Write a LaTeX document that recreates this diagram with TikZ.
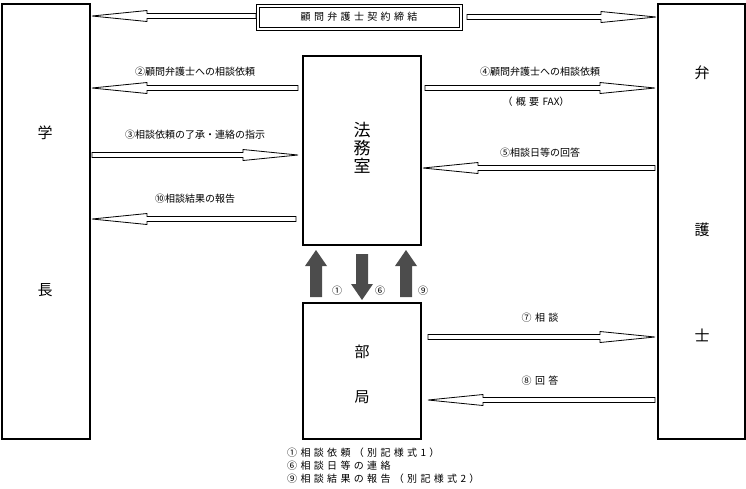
\documentclass[tikz,border=0pt]{standalone}
\usepackage{fontspec}
\setmainfont{Noto Sans CJK JP}
\usetikzlibrary{calc}
\newcommand\harrow[3]{%
  \pgfmathsetmacro\dd{(#2>#1)?1:-1}%
  \pgfmathsetmacro\hb{#2-\dd*55}%
  \draw[line width=0.8pt,fill=white] (#1,#3-2.5) -- (\hb,#3-2.5) -- (\hb,#3-5.5) -- (#2,#3) -- (\hb,#3+5.5) -- (\hb,#3+2.5) -- (#1,#3+2.5) -- cycle;}
\newcommand\garrow[3]{% x, tail y, head y
  \pgfmathsetmacro\dd{(#3>#2)?1:-1}%
  \pgfmathsetmacro\hb{#3-\dd*16}%
  \fill[gray!35!black!85] (#1-6,#2) -- (#1-6,\hb) -- (#1-11,\hb) -- (#1,#3) -- (#1+11,\hb) -- (#1+6,\hb) -- (#1+6,#2) -- cycle;}
\begin{document}
\begin{tikzpicture}[x=1pt,y=-1pt,
  box/.style={draw,line width=1.5pt},
  lbl/.style={font=\fontsize{10}{12}\selectfont,inner sep=0pt},
  big/.style={font=\fontsize{15}{18}\selectfont,inner sep=0pt}]
\useasboundingbox (0,0) rectangle (746,488);
\draw[box] (2,4) rectangle (90,439);
\draw[box] (658,4) rectangle (745,439);
\draw[box] (303,56) rectangle (421,245);
\draw[box] (303,303) rectangle (421,439);
\draw[line width=0.8pt] (256,4) rectangle (462,30);
\draw[line width=0.8pt] (259,7) rectangle (459,27);
\node[lbl] (contract) at (359,17) {顧\,\,問\,\,弁\,\,護\,\,士\,\,契\,\,約\,\,締\,\,結};
\node[big] (gaku) at (45,133) {学};
\node[big] (cho) at (45,290) {長};
\node[big] (b1) at (702,73) {弁};
\node[big] (b2) at (702,230) {護};
\node[big] (b3) at (702,335) {士};
\node[big,font=\fontsize{17}{20}\selectfont,align=center] (homu) at (362,148) {法\\[-2pt]務\\[-2pt]室};
\node[big] (bu) at (362,352) {部};
\node[big] (kyoku) at (362,397) {局};
\harrow{256}{92}{16}
\harrow{467}{656}{17}
\harrow{298}{92}{88}
\harrow{425}{655}{88}
\harrow{92}{298}{155}
\harrow{655}{423}{168}
\harrow{296}{92}{219}
\harrow{428}{655}{337}
\harrow{655}{428}{400}
\node[lbl] (l2) at (195,72) {②顧問弁護士への相談依頼};
\node[lbl] (l4) at (540,72) {④顧問弁護士への相談依頼};
\node[lbl] (l4b) at (536,102) {（\,\,概\,\,要\,\,FAX）};
\node[lbl] (l3) at (195,135) {③相談依頼の了承・連絡の指示};
\node[lbl] (l5) at (540,153) {⑤相談日等の回答};
\node[lbl] (l10) at (195,199) {⑩相談結果の報告};
\node[lbl] (l7) at (540,318) {⑦\,\,相\,\,談};
\node[lbl] (l8) at (540,381) {⑧\,\,回\,\,答};
\garrow{316}{297}{250}
\garrow{362}{254}{300}
\garrow{406}{297}{250}
\node[lbl] (n1) at (337,291) {①};
\node[lbl] (n6) at (380,291) {⑥};
\node[lbl] (n9) at (423,291) {⑨};
\node[lbl,anchor=west] (g1) at (287,453) {①\,\,相\,\,談\,\,依\,\,頼\,\,（\,\,別\,\,記\,\,様\,\,式\,\,1\,\,）};
\node[lbl,anchor=west] (g2) at (287,466) {⑥\,\,相\,\,談\,\,日\,\,等\,\,の\,\,連\,\,絡};
\node[lbl,anchor=west] (g3) at (287,479) {⑨\,\,相\,\,談\,\,結\,\,果\,\,の\,\,報\,\,告\,\,（\,\,別\,\,記\,\,様\,\,式\,\,2\,\,）};
\end{tikzpicture}
\end{document}
